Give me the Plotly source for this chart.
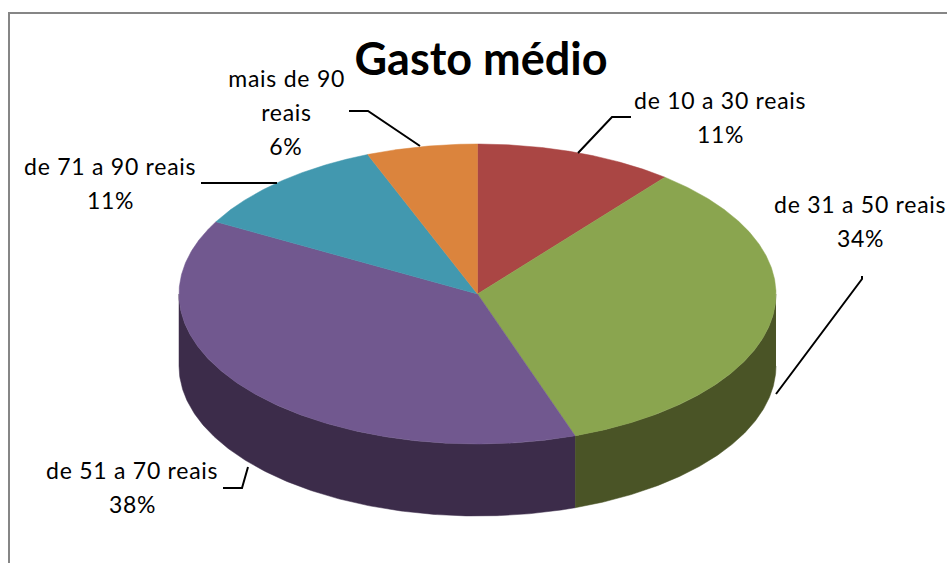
import numpy as np
import plotly.graph_objects as go

# Data
categories = ["de 10 a 30 reais", "de 31 a 50 reais", "de 51 a 70 reais", "de 71 a 90 reais", "mais de 90 reais"]
values = [10.8, 33.9, 38.3, 11.0, 6.0]
title_text = "Gasto médio"

# Styles
top_colors = ["#AA4644", "#8AA54F", "#71588F", "#4298AF", "#DB843D"]
side_colors = ["#5E2725", "#4A5426", "#3C2C4A", "#23525F", "#7A4720"]
FONT = "Lato"

# Pie geometry (axis units equal pixels)
cx, cy, rx, ry, depth = 477.5, 294.0, 298.5, 150.0, 72.0

# Label placement: lines and centre positions
label_lines = [
    (["de 10 a 30 reais", "11%"], 720, [100, 134]),
    (["de 31 a 50 reais", "34%"], 860, [204, 238]),
    (["de 51 a 70 reais", "38%"], 132, [470, 504]),
    (["de 71 a 90 reais", "11%"], 110, [166, 200]),
    (["mais de 90", "reais", "6%"], 286, [78, 112, 146]),
]
leaders = [
    ([631, 612, 578], [117, 117, 153]),
    ([862, 862, 776], [276, 279, 394]),
    ([223, 242, 248], [488, 488, 467]),
    ([201, 277], [183, 183]),
    ([349, 368, 420], [111, 111, 146]),
]


def px(theta):
    return cx + rx * np.sin(theta), cy - ry * np.cos(theta)


fig = go.Figure()
bounds = np.concatenate([[0], np.cumsum(values)]) / sum(values) * 2 * np.pi

# Sides (only the front half, from 90 to 270 degrees clockwise from top)
for i in range(len(values)):
    a = max(bounds[i], np.pi / 2)
    b = min(bounds[i + 1], 3 * np.pi / 2)
    if b <= a:
        continue
    t = np.linspace(a, b, 200)
    x, y = px(t)
    fig.add_trace(go.Scatter(
        x=np.concatenate([x, x[::-1]]), y=np.concatenate([y, y[::-1] + depth]),
        mode="lines", fill="toself", fillcolor=side_colors[i],
        line=dict(width=0.5, color=side_colors[i]), hoverinfo="skip", showlegend=False))

# Top faces
for i in range(len(values)):
    t = np.linspace(bounds[i], bounds[i + 1], 300)
    x, y = px(t)
    fig.add_trace(go.Scatter(
        x=np.concatenate([[cx], x, [cx]]), y=np.concatenate([[cy], y, [cy]]),
        mode="lines", fill="toself", fillcolor=top_colors[i],
        line=dict(width=0.5, color=top_colors[i]), name=categories[i],
        hoverinfo="name", showlegend=False))

# Leader lines
for lx, ly in leaders:
    fig.add_trace(go.Scatter(x=lx, y=ly, mode="lines", line=dict(color="#000000", width=2),
                             hoverinfo="skip", showlegend=False))

annotations = []
for lines, x, ys in label_lines:
    for line, y in zip(lines, ys):
        annotations.append(dict(x=x, y=y, xref="x", yref="y", text=line, showarrow=False,
                                xanchor="center", yanchor="middle",
                                font=dict(family=FONT, size=23, color="#000000")))

fig.update_layout(
    width=947, height=563, margin=dict(l=0, r=0, t=0, b=0),
    paper_bgcolor="white", plot_bgcolor="white", showlegend=False,
    title=dict(text="<b>" + title_text + "</b>", x=481 / 947, y=1 - 59 / 563, xanchor="center", yanchor="middle",
               font=dict(family="Lato", size=45, color="#000000")),
    xaxis=dict(range=[0, 947], visible=False, fixedrange=True),
    yaxis=dict(range=[563, 0], visible=False, fixedrange=True),
    annotations=annotations,
    shapes=[dict(type="rect", xref="x", yref="y", x0=9, y0=13, x1=1000, y1=600,
                 line=dict(color="#868686", width=2), layer="below")],
)
post = """
document.body.style.margin='0';
document.documentElement.style.overflow='hidden';
var sp=function(){document.querySelectorAll('.annotation-text').forEach(function(e){e.style.letterSpacing='0.75px';});};
var gd=document.getElementById('{plot_id}');
sp();
if(gd.on){gd.on('plotly_afterplot',sp);}
"""
fig.write_html("out.html", post_script=post, config={"displayModeBar": False})
